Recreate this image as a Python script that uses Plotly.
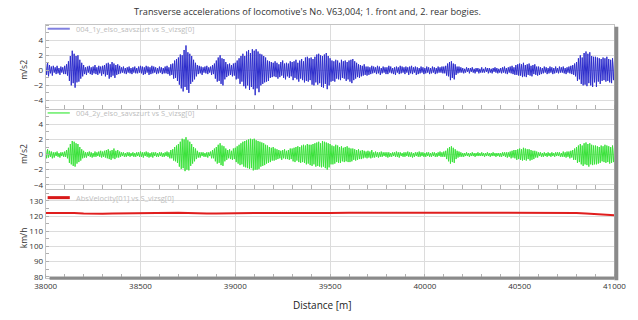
import plotly.graph_objects as go

# ---------------- data ----------------
distance_start = 38000
distance_step = 5  # m between acceleration samples

accel_front = [  # 004_1y_elso_savszurt [m/s2], every 5 m from 38000
    0.9, -0.6, 1.0, -0.8, 0.7, -0.4, 0.5, -0.7, 0.6, -0.3, 0.4, -0.5, 0.6, -0.4, 0.3, -0.6, 0.5, -0.3, 0.4, -0.5,
    0.6, -0.5, 0.8, -0.7, 1.2, -1.4, 1.9, -2.0, 2.6, -1.7, 2.2, -2.3, 1.9, -1.6, 2.0, -1.5, 1.4, -1.1, 1.0, -0.8,
    0.7, -0.5, 0.4, -0.6, 0.5, -0.3, 0.6, -0.5, 0.4, -0.6, 0.5, -0.4, 0.7, -0.5, 0.4, -0.6, 0.6, -0.4, 0.5, -0.7,
    0.6, -0.5, 0.7, -0.8, 0.9, -0.6, 1.0, -1.1, 0.8, -0.9, 1.1, -0.7, 0.9, -1.0, 0.7, -0.6, 0.8, -0.5, 0.6, -0.4,
    0.4, -0.3, 0.5, -0.4, 0.3, -0.5, 0.4, -0.3, 0.5, -0.4, 0.3, -0.5, 0.4, -0.3, 0.5, -0.4, 0.3, -0.4, 0.5, -0.3,
    0.6, -0.4, 0.5, -0.6, 0.4, -0.5, 0.6, -0.3, 0.5, -0.6, 0.4, -0.5, 0.6, -0.4, 0.5, -0.3, 0.4, -0.5, 0.3, -0.4,
    0.5, -0.3, 0.4, -0.5, 0.3, -0.4, 0.5, -0.4, 0.6, -0.5, 0.4, -0.7, 0.8, -0.6, 0.9, -1.1, 1.3, -1.0, 1.5, -1.4,
    1.7, -1.9, 2.1, -2.4, 2.0, -2.8, 2.7, -2.2, 3.3, -2.6, 2.4, -3.0, 2.2, -1.8, 1.9, -1.5, 1.4, -1.2, 1.0, -0.8,
    0.7, -0.5, 0.6, -0.4, 0.5, -0.6, 0.4, -0.3, 0.5, -0.4, 0.6, -0.5, 0.4, -0.3, 0.5, -0.6, 0.7, -0.5, 0.9, -1.1,
    1.3, -1.5, 1.7, -1.4, 2.0, -1.8, 1.6, -2.0, 1.5, -1.2, 1.1, -0.9, 0.8, -0.7, 0.9, -0.6, 0.7, -0.8, 0.9, -0.7,
    1.0, -1.2, 1.3, -1.1, 1.6, -1.8, 1.9, -1.5, 2.2, -2.1, 1.9, -2.4, 2.5, -2.0, 2.7, -2.6, 2.3, -2.2, 2.8, -2.5,
    2.6, -3.3, 2.8, -2.4, 2.5, -2.9, 2.2, -2.0, 2.1, -1.8, 1.9, -1.6, 1.7, -1.5, 1.3, -1.4, 1.2, -1.0, 1.1, -0.9,
    1.0, -0.8, 1.2, -0.9, 1.0, -1.1, 0.8, -0.9, 1.1, -0.7, 1.3, -1.0, 0.9, -1.2, 1.0, -0.8, 0.9, -1.0, 1.2, -0.8,
    1.1, -1.3, 1.2, -1.0, 1.4, -1.2, 1.0, -1.5, 1.3, -1.1, 1.5, -1.3, 1.2, -1.6, 1.7, -1.4, 1.8, -1.5, 1.6, -1.3,
    1.7, -1.9, 1.5, -2.0, 1.8, -1.6, 2.1, -1.9, 2.2, -1.7, 2.0, -2.2, 1.9, -2.3, 2.1, -1.8, 2.3, -2.5, 1.9, -2.0,
    1.6, -1.5, 1.3, -1.4, 1.2, -1.5, 1.4, -1.1, 1.3, -1.2, 1.0, -1.3, 1.4, -1.0, 1.2, -1.1, 1.3, -1.4, 1.1, -1.2,
    1.3, -1.5, 1.4, -1.7, 1.5, -1.3, 1.2, -1.1, 1.0, -0.9, 0.8, -1.0, 0.7, -0.8, 0.6, -0.7, 0.8, -0.6, 0.5, -0.7,
    0.5, -0.6, 0.4, -0.5, 0.6, -0.4, 0.5, -0.3, 0.4, -0.5, 0.6, -0.4, 0.5, -0.6, 0.3, -0.4, 0.5, -0.3, 0.4, -0.5,
    0.4, -0.5, 0.6, -0.3, 0.5, -0.4, 0.3, -0.5, 0.4, -0.6, 0.5, -0.3, 0.4, -0.5, 0.6, -0.4, 0.5, -0.3, 0.4, -0.5,
    0.5, -0.3, 0.4, -0.6, 0.5, -0.4, 0.6, -0.5, 0.4, -0.3, 0.5, -0.6, 0.4, -0.5, 0.3, -0.4, 0.5, -0.3, 0.4, -0.5,
    0.3, -0.4, 0.5, -0.3, 0.4, -0.5, 0.3, -0.4, 0.5, -0.3, 0.4, -0.5, 0.3, -0.4, 0.5, -0.3, 0.4, -0.3, 0.5, -0.4,
    0.5, -0.4, 0.6, -0.7, 0.9, -0.8, 1.1, -1.3, 1.2, -1.0, 0.9, -1.2, 0.8, -0.6, 0.5, -0.4, 0.5, -0.3, 0.4, -0.3,
    0.3, -0.4, 0.2, -0.3, 0.4, -0.2, 0.3, -0.4, 0.3, -0.2, 0.4, -0.3, 0.2, -0.4, 0.3, -0.2, 0.3, -0.4, 0.2, -0.3,
    0.4, -0.3, 0.2, -0.3, 0.4, -0.2, 0.3, -0.4, 0.3, -0.3, 0.2, -0.4, 0.3, -0.2, 0.4, -0.3, 0.3, -0.4, 0.2, -0.3,
    0.3, -0.4, 0.4, -0.3, 0.5, -0.4, 0.3, -0.5, 0.4, -0.3, 0.5, -0.4, 0.6, -0.5, 0.4, -0.6, 0.7, -0.6, 0.8, -0.7,
    0.9, -0.7, 0.8, -0.9, 1.0, -0.8, 0.7, -0.9, 0.8, -0.6, 0.9, -0.7, 0.6, -0.8, 0.7, -0.5, 0.8, -0.6, 0.5, -0.7,
    0.5, -0.6, 0.4, -0.5, 0.3, -0.4, 0.5, -0.3, 0.4, -0.5, 0.3, -0.4, 0.5, -0.3, 0.4, -0.5, 0.3, -0.4, 0.5, -0.3,
    0.3, -0.4, 0.5, -0.3, 0.4, -0.3, 0.5, -0.4, 0.3, -0.5, 0.4, -0.3, 0.5, -0.4, 0.6, -0.5, 0.7, -0.6, 0.9, -0.8,
    1.1, -1.4, 1.6, -1.2, 2.0, -1.8, 1.7, -2.0, 2.3, -1.9, 2.5, -2.1, 2.2, -1.7, 2.4, -2.0, 1.9, -2.2, 1.8, -1.6,
    1.8, -2.2, 1.7, -1.5, 1.6, -1.8, 1.5, -1.4, 1.7, -1.3, 1.6, -1.5, 1.8, -1.4, 1.5, -1.6, 1.4, -1.7, 1.6, -1.3,
    1.2,
]

accel_rear = [  # 004_2y_elso_savszurt [m/s2], every 5 m from 38000
    0.6, -0.5, 0.7, -0.4, 0.5, -0.3, 0.4, -0.5, 0.3, -0.4, 0.3, -0.2, 0.4, -0.3, 0.2, -0.4, 0.3, -0.2, 0.3, -0.3,
    0.4, -0.3, 0.6, -0.5, 0.9, -1.1, 1.4, -1.3, 1.8, -1.5, 1.7, -1.6, 1.5, -1.2, 1.4, -1.0, 1.0, -0.8, 0.7, -0.5,
    0.5, -0.4, 0.3, -0.4, 0.3, -0.2, 0.4, -0.3, 0.3, -0.4, 0.2, -0.3, 0.4, -0.3, 0.3, -0.2, 0.4, -0.3, 0.5, -0.4,
    0.4, -0.3, 0.5, -0.4, 0.6, -0.5, 0.7, -0.6, 0.5, -0.7, 0.6, -0.5, 0.8, -0.6, 0.5, -0.4, 0.6, -0.4, 0.4, -0.3,
    0.3, -0.2, 0.3, -0.3, 0.2, -0.3, 0.3, -0.2, 0.3, -0.3, 0.2, -0.2, 0.3, -0.3, 0.2, -0.3, 0.3, -0.2, 0.3, -0.3,
    0.4, -0.3, 0.3, -0.4, 0.3, -0.2, 0.4, -0.3, 0.3, -0.4, 0.2, -0.3, 0.3, -0.4, 0.3, -0.2, 0.3, -0.3, 0.2, -0.3,
    0.3, -0.2, 0.3, -0.3, 0.2, -0.3, 0.3, -0.2, 0.4, -0.3, 0.3, -0.5, 0.6, -0.5, 0.7, -0.8, 1.0, -0.9, 1.2, -1.1,
    1.4, -1.6, 1.7, -1.9, 2.1, -1.8, 2.0, -2.2, 2.3, -2.0, 1.9, -2.1, 1.7, -1.5, 1.4, -1.2, 1.0, -0.9, 0.8, -0.6,
    0.5, -0.4, 0.3, -0.4, 0.3, -0.2, 0.3, -0.3, 0.2, -0.3, 0.3, -0.4, 0.3, -0.2, 0.4, -0.5, 0.6, -0.5, 0.8, -0.9,
    1.0, -1.2, 1.3, -1.1, 1.5, -1.4, 1.2, -1.5, 1.1, -0.9, 0.8, -0.7, 0.6, -0.5, 0.7, -0.6, 0.5, -0.7, 0.8, -0.6,
    0.9, -1.0, 1.1, -1.2, 1.3, -1.4, 1.5, -1.3, 1.7, -1.6, 1.8, -1.7, 1.9, -1.8, 2.0, -1.9, 2.1, -1.8, 2.0, -2.1,
    2.1, -2.0, 1.9, -2.0, 1.8, -1.9, 1.7, -1.6, 1.6, -1.5, 1.5, -1.4, 1.3, -1.2, 1.2, -1.1, 1.0, -1.0, 0.9, -0.8,
    1.0, -0.8, 0.8, -0.7, 0.7, -0.6, 0.6, -0.5, 0.5, -0.7, 0.6, -0.5, 0.7, -0.6, 0.5, -0.6, 0.6, -0.7, 0.8, -0.6,
    0.8, -0.9, 0.9, -1.0, 1.0, -0.8, 1.1, -1.0, 1.0, -1.1, 1.2, -1.0, 1.3, -1.1, 1.2, -1.3, 1.4, -1.2, 1.3, -1.4,
    1.3, -1.5, 1.4, -1.3, 1.5, -1.6, 1.6, -1.5, 1.7, -1.6, 1.5, -1.7, 1.8, -1.6, 1.7, -1.8, 1.6, -2.0, 1.5, -1.7,
    1.4, -1.3, 1.2, -1.3, 1.1, -1.2, 1.3, -1.0, 1.2, -1.1, 1.0, -1.1, 1.1, -0.9, 0.9, -1.0, 1.0, -0.9, 1.1, -1.0,
    0.9, -1.0, 0.8, -0.9, 0.8, -0.7, 0.7, -0.8, 0.6, -0.7, 0.7, -0.6, 0.5, -0.6, 0.6, -0.5, 0.5, -0.4, 0.4, -0.5,
    0.5, -0.4, 0.4, -0.5, 0.6, -0.4, 0.3, -0.4, 0.4, -0.3, 0.3, -0.4, 0.3, -0.3, 0.4, -0.3, 0.3, -0.2, 0.3, -0.3,
    0.3, -0.4, 0.3, -0.3, 0.2, -0.3, 0.3, -0.2, 0.3, -0.3, 0.4, -0.3, 0.3, -0.4, 0.3, -0.2, 0.2, -0.3, 0.3, -0.3,
    0.3, -0.2, 0.4, -0.3, 0.3, -0.3, 0.3, -0.4, 0.2, -0.3, 0.3, -0.2, 0.3, -0.3, 0.4, -0.3, 0.3, -0.2, 0.3, -0.3,
    0.2, -0.3, 0.3, -0.2, 0.3, -0.3, 0.2, -0.3, 0.3, -0.2, 0.3, -0.3, 0.2, -0.3, 0.3, -0.2, 0.4, -0.3, 0.3, -0.3,
    0.4, -0.3, 0.5, -0.6, 0.8, -0.9, 1.0, -1.2, 1.1, -1.0, 0.9, -1.1, 0.7, -0.6, 0.5, -0.4, 0.4, -0.3, 0.3, -0.3,
    0.2, -0.3, 0.2, -0.2, 0.3, -0.2, 0.2, -0.3, 0.2, -0.2, 0.3, -0.2, 0.2, -0.3, 0.2, -0.2, 0.3, -0.2, 0.2, -0.2,
    0.3, -0.2, 0.2, -0.3, 0.2, -0.2, 0.3, -0.2, 0.2, -0.3, 0.2, -0.2, 0.3, -0.2, 0.2, -0.3, 0.2, -0.2, 0.2, -0.3,
    0.2, -0.3, 0.3, -0.2, 0.3, -0.3, 0.3, -0.4, 0.3, -0.3, 0.4, -0.5, 0.5, -0.4, 0.6, -0.5, 0.6, -0.7, 0.7, -0.6,
    0.8, -0.7, 0.7, -0.8, 0.9, -0.7, 0.8, -0.8, 0.7, -0.6, 0.7, -0.8, 0.6, -0.7, 0.5, -0.6, 0.5, -0.4, 0.4, -0.4,
    0.3, -0.2, 0.3, -0.3, 0.2, -0.3, 0.3, -0.2, 0.2, -0.3, 0.3, -0.2, 0.2, -0.3, 0.3, -0.2, 0.2, -0.3, 0.3, -0.2,
    0.3, -0.2, 0.3, -0.3, 0.2, -0.3, 0.4, -0.3, 0.3, -0.4, 0.4, -0.3, 0.4, -0.5, 0.5, -0.4, 0.6, -0.7, 0.8, -0.7,
    1.0, -1.1, 1.2, -1.0, 1.4, -1.3, 1.2, -1.5, 1.5, -1.3, 1.6, -1.4, 1.4, -1.6, 1.5, -1.3, 1.3, -1.4, 1.2, -1.3,
    1.2, -1.3, 1.1, -1.2, 1.0, -1.1, 1.2, -0.9, 1.1, -1.0, 1.3, -1.1, 1.2, -1.0, 1.1, -1.2, 1.0, -1.1, 1.2, -1.0,
    0.9,
]

velocity_step = 50  # m between velocity samples
velocity = [  # AbsVelocity[01] [km/h], every 50 m from 38000
    122.0, 122.1, 121.9, 122.0, 121.7, 121.4, 121.5, 121.6, 121.7, 121.8,
    121.9, 122.1, 122.4, 122.5, 122.2, 122.0, 121.7, 121.6, 121.6, 121.8,
    121.9, 121.9, 122.0, 121.9, 122.0, 121.9, 122.0, 121.9, 121.9, 122.0,
    122.0, 121.9, 122.1, 122.2, 122.1, 122.0, 122.1, 122.2, 122.1, 122.2,
    122.2, 122.1, 122.0, 122.0, 122.1, 122.2, 122.3, 122.2, 122.1, 122.1,
    122.0, 121.9, 122.0, 122.0, 122.1, 122.1, 122.0, 121.6, 121.2, 121.0,
    120.5,
]

x_ticks = [38000, 38500, 39000, 39500, 40000, 40500, 41000]
acc_ticks = [-4, -2, 0, 2, 4]
vel_ticks = [80, 90, 100, 110, 120, 130]

title_text = "Transverse accelerations of locomotive's No. V63,004; 1. front and, 2. rear bogies."
legend_names = ["004_1y_elso_savszurt vs S_vizsg[0]",
                "004_2y_elso_savszurt vs S_vizsg[0]",
                "AbsVelocity[01] vs S_vizsg[0]"]

dist_acc = [distance_start + distance_step * i for i in range(len(accel_front))]
dist_vel = [distance_start + velocity_step * i for i in range(len(velocity))]

# ---------------- figure ----------------
W, H = 638, 320
FONT = "Open Sans"

def px_x(p):
    return p / W

def px_y(p):
    return 1 - p / H

fig = go.Figure()
fig.add_trace(go.Scatter(x=dist_acc, y=accel_front, mode="lines",
                         line=dict(color="#2e2ecc", width=1), xaxis="x", yaxis="y",
                         name=legend_names[0], hoverinfo="skip"))
fig.add_trace(go.Scatter(x=dist_acc, y=accel_rear, mode="lines",
                         line=dict(color="#3ae23a", width=1), xaxis="x2", yaxis="y2",
                         name=legend_names[1], hoverinfo="skip"))
fig.add_trace(go.Scatter(x=dist_vel, y=velocity, mode="lines",
                         line=dict(color="#e01e1e", width=2), xaxis="x3", yaxis="y3",
                         name=legend_names[2], hoverinfo="skip"))

grid = "#dcdcdc"
frame = "#c4c4c4"
tickfont = dict(family=FONT, size=8, color="#333333")
xdom = [px_x(36), px_x(626)]

def xaxis(anchor, show_labels):
    return dict(domain=xdom, anchor=anchor, range=[38000, 41000],
                tickvals=x_ticks, tickformat="d", showticklabels=show_labels, ticks="",
                showgrid=True, gridcolor=grid, gridwidth=1,
                showline=True, linecolor=frame, mirror=True,
                zeroline=False, tickfont=tickfont,
                minor=dict(dtick=100, tick0=38000, ticks="inside", ticklen=4,
                           tickcolor="#b0b0b0", showgrid=False))

def yaxis(anchor, dom, rng, tv, minor_dt):
    return dict(domain=dom, anchor=anchor, range=rng, tickvals=tv, ticks="",
                showgrid=True, gridcolor=grid, gridwidth=1,
                showline=True, linecolor=frame, mirror=True,
                zeroline=False, tickfont=tickfont,
                minor=dict(dtick=minor_dt, ticks="inside", ticklen=3,
                           tickcolor="#b0b0b0", showgrid=False))

fig.update_layout(
    width=W, height=H, margin=dict(l=0, r=0, t=0, b=0),
    paper_bgcolor="white", plot_bgcolor="white", showlegend=False,
    hovermode=False,
    xaxis=xaxis("y", False),
    xaxis2=xaxis("y2", False),
    xaxis3=xaxis("y3", True),
    yaxis=yaxis("x", [px_y(110), px_y(25)], [-5.13, 6.05], acc_ticks, 1),
    yaxis2=yaxis("x2", [px_y(191), px_y(111)], [-4.6, 5.92], acc_ticks, 1),
    yaxis3=yaxis("x3", [px_y(281), px_y(192)], [78.9, 137.0], vel_ticks, 5),
)

ann = []
ann.append(dict(text=title_text, x=px_x(308), y=px_y(12), xref="paper", yref="paper",
                xanchor="center", yanchor="middle", showarrow=False,
                font=dict(family=FONT, size=9.2, color="#333333")))
ann.append(dict(text="Distance [m]", x=px_x(323), y=px_y(308), xref="paper", yref="paper",
                xanchor="center", yanchor="middle", showarrow=False,
                font=dict(family=FONT, size=10, color="#222222")))
for txt, yc in [("m/s2", 71), ("m/s2", 156), ("km/h", 240)]:
    ann.append(dict(text=txt, x=px_x(13), y=px_y(yc), xref="paper", yref="paper",
                    xanchor="center", yanchor="middle", showarrow=False, textangle=-90,
                    font=dict(family=FONT, size=8.5, color="#333333")))

shapes = []
leg = [(legend_names[0], 29, "#8080e0", 2), (legend_names[1], 114, "#66ee66", 1.5),
       (legend_names[2], 199.5, "#d81818", 3)]
for name, yc, col, lw in leg:
    shapes.append(dict(type="line", xref="paper", yref="paper",
                       x0=px_x(38), x1=px_x(61), y0=px_y(yc), y1=px_y(yc),
                       line=dict(color=col, width=lw)))
    ann.append(dict(text=name, x=px_x(65), y=px_y(yc), xref="paper", yref="paper",
                    xanchor="left", yanchor="middle", showarrow=False,
                    font=dict(family=FONT, size=7.5, color="#bdbdbd")))

# gray scrollbar-like frame on right and bottom
shapes.append(dict(type="rect", xref="paper", yref="paper",
                   x0=px_x(626), x1=px_x(630), y0=px_y(283), y1=px_y(27),
                   fillcolor="#8a8a8a", line=dict(width=0)))
shapes.append(dict(type="rect", xref="paper", yref="paper",
                   x0=px_x(40), x1=px_x(626), y0=px_y(282.5), y1=px_y(279.3),
                   fillcolor="#8a8a8a", line=dict(width=0)))

fig.update_layout(annotations=ann, shapes=shapes)
# remove the browser's default 8 px body margin so the figure fills the window
fig.write_html("out.html", config={"displayModeBar": False, "staticPlot": True},
               post_script="document.body.style.margin='0';document.body.style.overflow='hidden';")
